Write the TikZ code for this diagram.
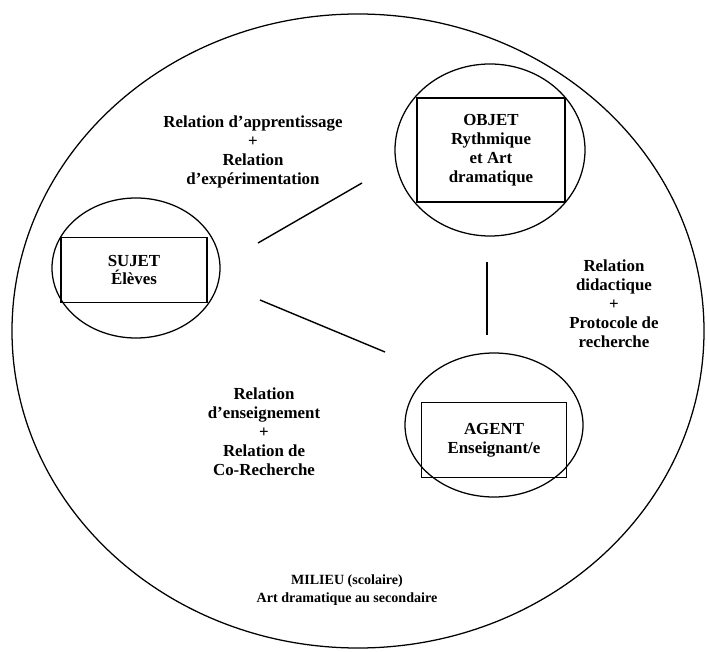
\documentclass[tikz,border=0pt]{standalone}
\usepackage{fontspec}
\setmainfont{Liberation Serif}
\usetikzlibrary{positioning, shapes.geometric}

\tikzset{
  pole/.style={draw, ellipse, line width=0.9pt, inner sep=0pt},
  polebox/.style={draw, rectangle, line width=1.2pt, align=center, inner sep=2pt},
  relation/.style={align=center, inner sep=0pt},
  link/.style={line width=1pt}
}

\begin{document}
\begin{tikzpicture}[font=\bfseries\fontsize{12}{13.5}\selectfont]
	\useasboundingbox (0, 0) rectangle (17.675, 16.275);
	% milieu
	\node[pole, minimum width=17.3cm, minimum height=15.85cm] (milieu) at (8.95, 8.0) {};
	\node[relation, font=\bfseries\fontsize{10}{13}\selectfont] (milieutxt) at (8.675, 1.525) {MILIEU (scolaire)\\Art dramatique au secondaire};
	% les trois poles
	\node[pole, minimum width=4.75cm, minimum height=4.3cm] (objet) at (12.25, 12.525) {};
	\node[polebox, minimum width=3.7cm, minimum height=2.6cm] (objetbox) at (12.275, 12.525) {OBJET\\Rythmique\\et Art\\dramatique};
	\node[pole, minimum width=4.2cm, minimum height=3.5cm] (sujet) at (3.4, 9.575) {};
	\node[polebox, minimum width=3.65cm, minimum height=1.625cm] (sujetbox) at (3.35, 9.525) {SUJET\\Élèves};
	\node[pole, minimum width=4.45cm, minimum height=3.6cm] (agent) at (12.35, 5.65) {};
	\node[polebox, minimum width=3.625cm, minimum height=1.875cm] (agentbox) at (12.35, 5.275) {AGENT\\Enseignant/e};
	% relations
	\coordinate (so1) at (6.45, 10.2);
	\coordinate (so2) at (9.05, 11.7);
	\coordinate (sa1) at (6.5, 8.775);
	\coordinate (sa2) at (9.625, 7.475);
	\coordinate (oa1) at (12.175, 9.725);
	\coordinate (oa2) at (12.175, 7.9);
	\draw[link] (so1) -- (so2);
	\draw[link] (sa1) -- (sa2);
	\draw[link] (oa1) -- (oa2);
	\node[relation] (apprent) at (6.325, 12.475) {Relation d’apprentissage\\+\\Relation\\d’expérimentation};
	\node[relation] (enseign) at (6.6, 5.475) {Relation\\d’enseignement\\+\\Relation de\\Co-Recherche};
	\node[relation] (didact) at (15.35, 8.675) {Relation\\didactique\\+\\Protocole de\\recherche};
\end{tikzpicture}
\end{document}
